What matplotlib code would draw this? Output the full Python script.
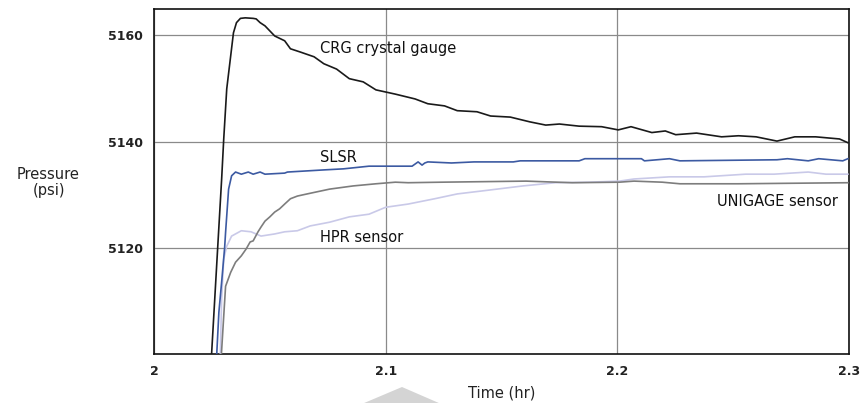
import matplotlib
matplotlib.use("Agg")
import matplotlib.pyplot as plt
from matplotlib.patches import Polygon

# ---- data (time in hr, pressure in psi) ----
crg_t = [2.0247, 2.0275, 2.0292, 2.0301, 2.0314, 2.0343, 2.0356, 2.0373, 2.0394, 2.0428,
         2.0441, 2.0458, 2.0479, 2.0521, 2.0564, 2.0589, 2.0631, 2.0691, 2.0733, 2.0788,
         2.0843, 2.0903, 2.0958, 2.1000, 2.1042, 2.1127, 2.1182, 2.1254, 2.1309, 2.1394,
         2.1453, 2.1538, 2.1623, 2.1691, 2.1750, 2.1835, 2.1932, 2.2004, 2.2059, 2.2149,
         2.2207, 2.2252, 2.2342, 2.2450, 2.2523, 2.2599, 2.2689, 2.2766, 2.2856, 2.2959,
         2.2995]
crg_p = [5099.0, 5120.2, 5133.0, 5140.5, 5149.9, 5160.4, 5162.3, 5163.1, 5163.2, 5163.1,
         5163.0, 5162.3, 5161.7, 5159.8, 5158.9, 5157.4, 5156.8, 5155.9, 5154.6, 5153.6,
         5151.8, 5151.2, 5149.7, 5149.3, 5148.9, 5148.0, 5147.1, 5146.7, 5145.8, 5145.6,
         5144.8, 5144.6, 5143.7, 5143.1, 5143.3, 5142.9, 5142.8, 5142.2, 5142.8, 5141.7,
         5142.0, 5141.3, 5141.6, 5140.9, 5141.1, 5140.9, 5140.1, 5140.9, 5140.9, 5140.5,
         5139.8]

slsr_t = [2.0270, 2.0280, 2.0292, 2.0305, 2.0309, 2.0322, 2.0335, 2.0352, 2.0377, 2.0407,
          2.0428, 2.0458, 2.0479, 2.0564, 2.0576, 2.0733, 2.0818, 2.0928, 2.1114, 2.1140,
          2.1157, 2.1169, 2.1182, 2.1284, 2.1381, 2.1551, 2.1581, 2.1835, 2.1860, 2.2009,
          2.2104, 2.2117, 2.2225, 2.2270, 2.2689, 2.2734, 2.2824, 2.2869, 2.2973, 2.2995]
slsr_p = [5099.5, 5108.0, 5113.7, 5120.2, 5123.0, 5131.1, 5133.6, 5134.3, 5133.9, 5134.3,
          5133.9, 5134.3, 5133.9, 5134.1, 5134.3, 5134.7, 5134.9, 5135.4, 5135.4, 5136.2,
          5135.6, 5136.0, 5136.2, 5136.0, 5136.2, 5136.2, 5136.4, 5136.4, 5136.8, 5136.8,
          5136.8, 5136.4, 5136.8, 5136.4, 5136.6, 5136.8, 5136.4, 5136.8, 5136.4, 5136.8]

uni_t = [2.0290, 2.0301, 2.0309, 2.0331, 2.0352, 2.0377, 2.0398, 2.0415, 2.0428, 2.0449,
         2.0462, 2.0479, 2.0500, 2.0521, 2.0542, 2.0564, 2.0589, 2.0619, 2.0661, 2.0758,
         2.0860, 2.0958, 2.1042, 2.1097, 2.1242, 2.1606, 2.1805, 2.2009, 2.2072, 2.2194,
         2.2270, 2.2523, 2.2995]
uni_p = [5099.5, 5107.3, 5112.9, 5115.5, 5117.4, 5118.6, 5119.9, 5121.2, 5121.4, 5123.1,
         5124.0, 5125.1, 5125.9, 5126.8, 5127.4, 5128.3, 5129.3, 5129.8, 5130.2, 5131.1,
         5131.7, 5132.1, 5132.4, 5132.3, 5132.4, 5132.6, 5132.3, 5132.4, 5132.6, 5132.4,
         5132.1, 5132.1, 5132.3]

hpr_t = [2.0286, 2.0292, 2.0301, 2.0314, 2.0335, 2.0377, 2.0419, 2.0462, 2.0521, 2.0564,
         2.0619, 2.0674, 2.0758, 2.0843, 2.0928, 2.1000, 2.1097, 2.1212, 2.1309, 2.1424,
         2.1593, 2.1733, 2.1877, 2.2009, 2.2072, 2.2225, 2.2374, 2.2554, 2.2676, 2.2824,
         2.2901, 2.2995]
hpr_p = [5099.5, 5110.5, 5118.0, 5120.4, 5122.3, 5123.3, 5123.1, 5122.3, 5122.7, 5123.1,
         5123.3, 5124.2, 5124.9, 5125.9, 5126.4, 5127.7, 5128.3, 5129.3, 5130.2, 5130.8,
         5131.7, 5132.3, 5132.4, 5132.6, 5133.0, 5133.4, 5133.4, 5133.9, 5133.9, 5134.3,
         5133.9, 5133.9]

x_ticks = [2.0, 2.1, 2.2, 2.3]
x_tick_labels = ["2", "2.1", "2.2", "2.3"]
y_ticks = [5120, 5140, 5160]
y_tick_labels = ["5120", "5140", "5160"]

labels = ["CRG crystal gauge", "SLSR", "HPR sensor", "UNIGAGE sensor"]
label_t = [2.0715, 2.0715, 2.0715, 2.2953]
label_p = [5157.4, 5137.1, 5122.1, 5128.7]

# ---- figure ----
W, H = 861, 403
fig = plt.figure(figsize=(W / 100, H / 100), dpi=100)
plt.rcParams['font.family'] = ['DejaVu Sans']
ax = fig.add_axes([154 / W, 1 - 354 / H, (849 - 154) / W, (354 - 9.3) / H])

ax.plot(hpr_t, hpr_p, color="#c9c9e8", lw=1.2, zorder=3)
ax.plot(uni_t, uni_p, color="#7d7d7d", lw=1.2, zorder=4)
ax.plot(slsr_t, slsr_p, color="#3c5aa2", lw=1.2, zorder=5)
ax.plot(crg_t, crg_p, color="#1a1a1a", lw=1.2, zorder=6)

ax.set_xlim(2.0, 2.3)
ax.set_ylim(5100.2, 5164.8)
ax.set_xticks(x_ticks)
ax.set_xticklabels(x_tick_labels, fontsize=9, fontweight="bold")
ax.set_yticks(y_ticks)
ax.set_yticklabels(y_tick_labels, fontsize=9, fontweight="bold")
ax.tick_params(length=0, pad=8, colors="#222222")
ax.grid(True, color="#8a8a8a", lw=0.9)
for s in ax.spines.values():
    s.set_color("#111111")
    s.set_linewidth(1.2)

for i, lab in enumerate(labels):
    ax.text(label_t[i], label_p[i], lab, fontsize=10.5, va="center",
            ha="right" if i == 3 else "left", color="#111111")

fig.text(48.5 / W, 1 - 182.5 / H, "Pressure\n(psi)", fontsize=10.5, ha="center", va="center",
         linespacing=1.05, color="#222222")
fig.text(502 / W, 1 - 393 / H, "Time (hr)", fontsize=10.5, ha="center", va="center",
         color="#222222")

tri = Polygon([(402 / W, 1 - 387 / H), (363 / W, 1 - 403.5 / H), (440 / W, 1 - 403.5 / H)],
              closed=True, transform=fig.transFigure, facecolor="#d4d4d4", edgecolor="none")
fig.patches.append(tri)

fig.savefig("out.png", dpi=100)
